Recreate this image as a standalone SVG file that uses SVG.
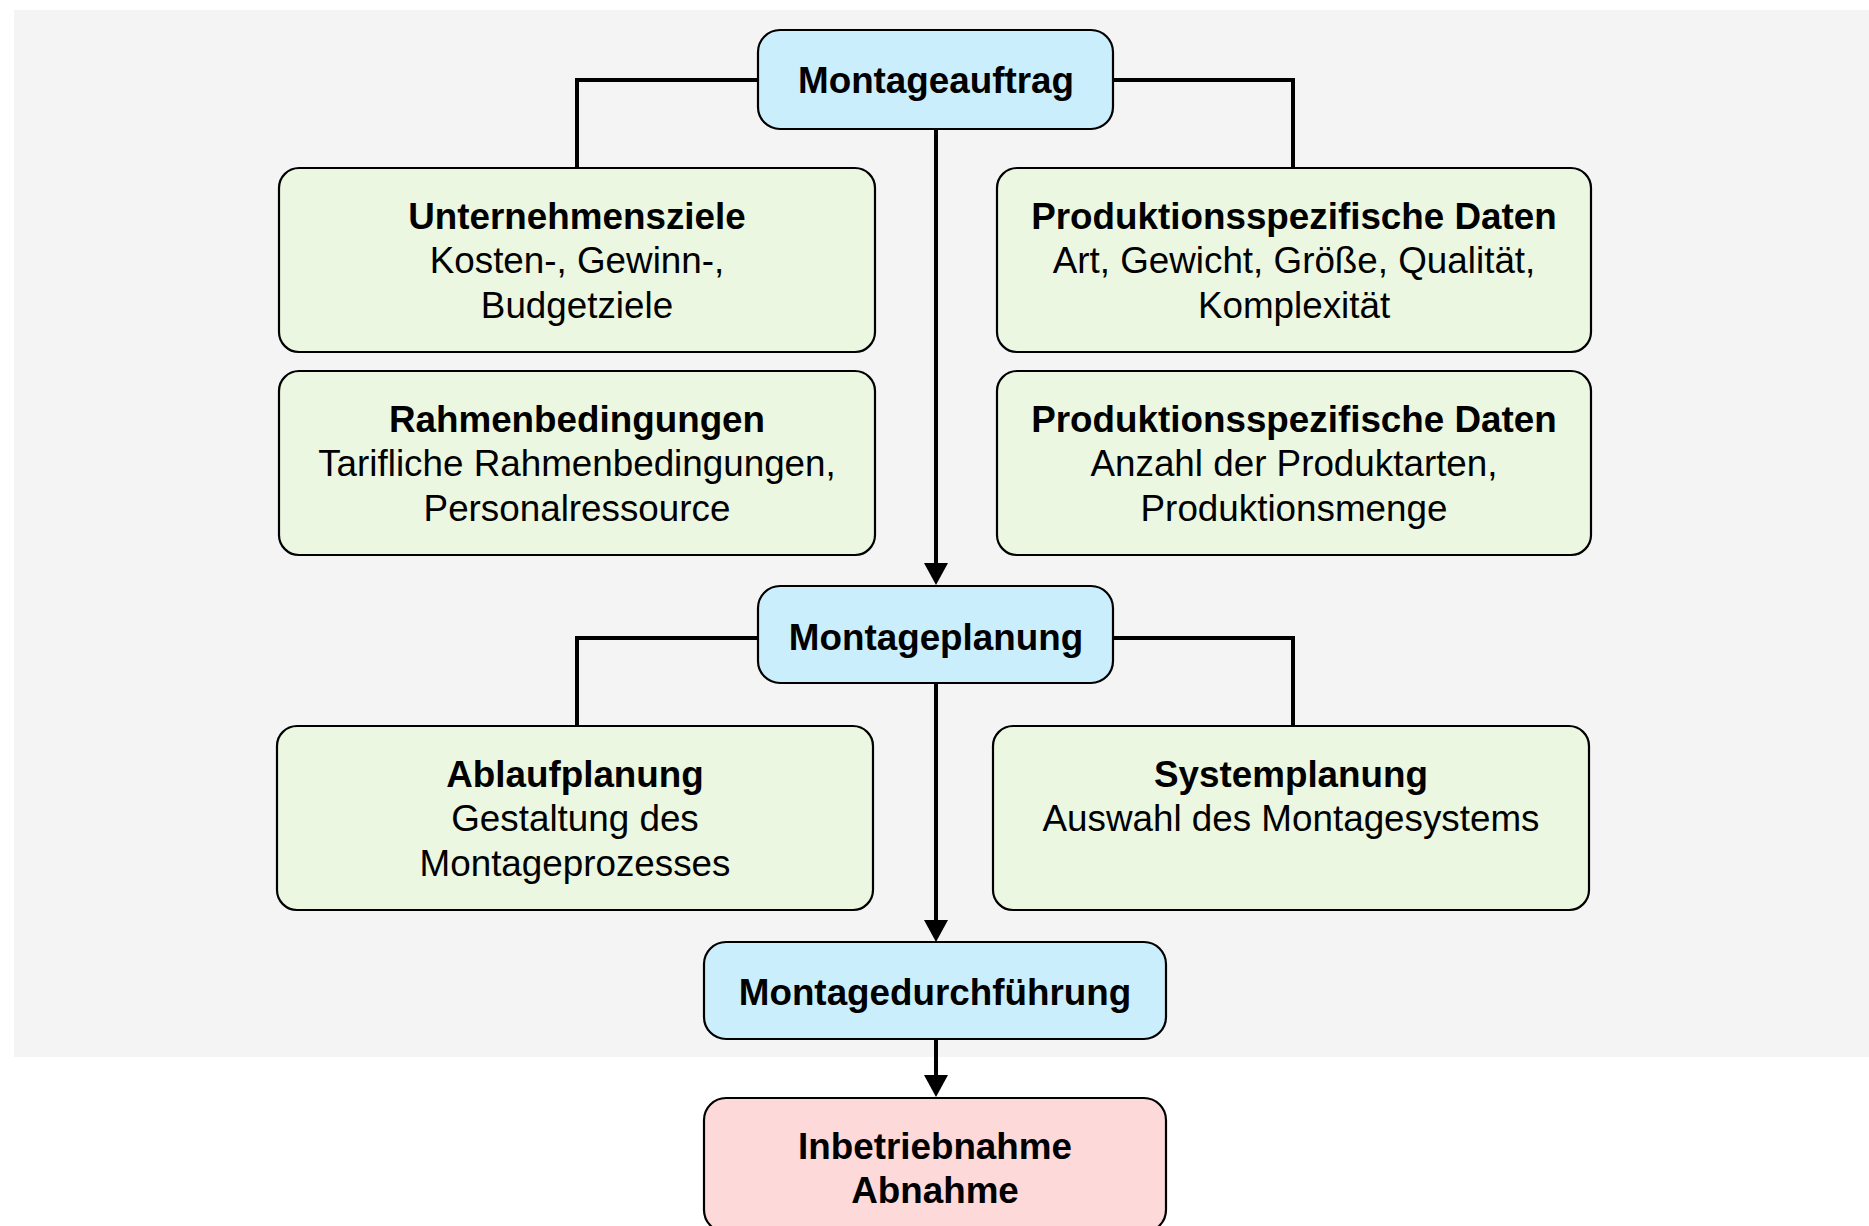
<svg xmlns="http://www.w3.org/2000/svg" width="1869" height="1226" viewBox="0 0 1869 1226">
<style>
.box{stroke:#000;stroke-width:2.2}
.blue{fill:#cbeefd}
.green{fill:#ebf7e1}
.pink{fill:#fdd9da}
.t{font-family:"Liberation Sans",Arial,Helvetica,sans-serif;font-size:36.8px;text-anchor:middle;fill:#000}
.b{font-weight:bold}
.c{fill:none;stroke:#000;stroke-width:4}
</style>
<defs>
<marker id="arr" markerUnits="userSpaceOnUse" markerWidth="24" markerHeight="24" refX="0" refY="12" orient="auto">
<path d="M0,0 L22,12 L0,24 z" fill="#000"/>
</marker>
</defs>
<rect x="14" y="10" width="1855" height="1047" fill="#f4f4f4"/>
<g id="connectors">
<path class="c" d="M758,80 H577 V168"/>
<path class="c" d="M1113,80 H1293 V168"/>
<path class="c" d="M936,129 V563" marker-end="url(#arr)"/>
<path class="c" d="M758,638 H577 V726"/>
<path class="c" d="M1113,638 H1293 V726"/>
<path class="c" d="M936,683 V920" marker-end="url(#arr)"/>
<path class="c" d="M936,1039 V1075" marker-end="url(#arr)"/>
</g>
<g id="montageauftrag">
<rect class="box blue" x="758" y="30" width="355" height="99" rx="22"/>
<text class="t b" x="936" y="93">Montageauftrag</text>
</g>
<g id="unternehmensziele">
<rect class="box green" x="279" y="168" width="596" height="184" rx="20"/>
<text class="t b" x="577" y="229">Unternehmensziele</text>
<text class="t" x="577" y="273">Kosten-, Gewinn-,</text>
<text class="t" x="577" y="318">Budgetziele</text>
</g>
<g id="rahmenbedingungen">
<rect class="box green" x="279" y="371" width="596" height="184" rx="20"/>
<text class="t b" x="577" y="432">Rahmenbedingungen</text>
<text class="t" x="577" y="476">Tarifliche Rahmenbedingungen,</text>
<text class="t" x="577" y="521">Personalressource</text>
</g>
<g id="produktionsdaten1">
<rect class="box green" x="997" y="168" width="594" height="184" rx="20"/>
<text class="t b" x="1294" y="229">Produktionsspezifische Daten</text>
<text class="t" x="1294" y="273">Art, Gewicht, Größe, Qualität,</text>
<text class="t" x="1294" y="318">Komplexität</text>
</g>
<g id="produktionsdaten2">
<rect class="box green" x="997" y="371" width="594" height="184" rx="20"/>
<text class="t b" x="1294" y="432">Produktionsspezifische Daten</text>
<text class="t" x="1294" y="476">Anzahl der Produktarten,</text>
<text class="t" x="1294" y="521">Produktionsmenge</text>
</g>
<g id="montageplanung">
<rect class="box blue" x="758" y="586" width="355" height="97" rx="22"/>
<text class="t b" x="936" y="650">Montageplanung</text>
</g>
<g id="ablaufplanung">
<rect class="box green" x="277" y="726" width="596" height="184" rx="20"/>
<text class="t b" x="575" y="787">Ablaufplanung</text>
<text class="t" x="575" y="831">Gestaltung des</text>
<text class="t" x="575" y="876">Montageprozesses</text>
</g>
<g id="systemplanung">
<rect class="box green" x="993" y="726" width="596" height="184" rx="20"/>
<text class="t b" x="1291" y="787">Systemplanung</text>
<text class="t" x="1291" y="831">Auswahl des Montagesystems</text>
</g>
<g id="montagedurchfuehrung">
<rect class="box blue" x="704" y="942" width="462" height="97" rx="22"/>
<text class="t b" x="935" y="1005">Montagedurchführung</text>
</g>
<g id="inbetriebnahme">
<rect class="box pink" x="704" y="1098" width="462" height="134" rx="22"/>
<text class="t b" x="935" y="1159">Inbetriebnahme</text>
<text class="t b" x="935" y="1203">Abnahme</text>
</g>
</svg>
